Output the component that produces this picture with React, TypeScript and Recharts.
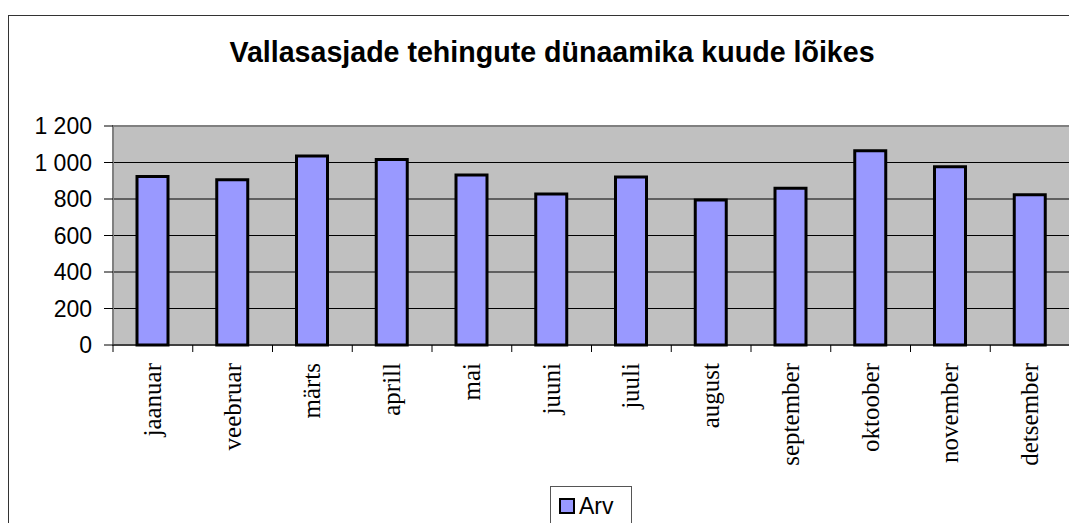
import React from "react";
import { BarChart, Bar, XAxis, YAxis, CartesianGrid, ReferenceArea } from "recharts";

const months = [
  "jaanuar",
  "veebruar",
  "märts",
  "aprill",
  "mai",
  "juuni",
  "juuli",
  "august",
  "september",
  "oktoober",
  "november",
  "detsember",
];
const arv = [923, 905, 1036, 1016, 932, 828, 921, 795, 859, 1065, 977, 823];
const yTicks = [0, 200, 400, 600, 800, 1000, 1200];

const data = months.map((m, i) => ({ month: m, arv: arv[i] }));

const W = 1069;
const H = 515;
const PLOT_LEFT = 105;
const PLOT_RIGHT = 1062;
const BAND = (PLOT_RIGHT - PLOT_LEFT) / months.length;

const SANS = "'Liberation Sans', Arial, sans-serif";
const SERIF = "'Liberation Serif', 'Times New Roman', serif";

// ticks sit on category boundaries, labels rotated under each bar
function MonthTick(props: any) {
  const { x, y, payload, index } = props;
  const half = BAND / 2;
  return (
    <g>
      <line x1={x - half} y1={y} x2={x - half} y2={y + 7} stroke="#000" />
      {index === months.length - 1 && (
        <line x1={x + half} y1={y} x2={x + half} y2={y + 7} stroke="#000" />
      )}
      <text
        transform={`translate(${x + 8},${y + 18}) rotate(-90)`}
        textAnchor="end"
        fontFamily={SERIF}
        fontSize={25}
        fill="#000"
      >
        {payload.value}
      </text>
    </g>
  );
}

const fmt = (v: number) => (v >= 1000 ? `${Math.floor(v / 1000)} ${String(v % 1000).padStart(3, "0")}` : String(v));

export default function App() {
  return (
    <div style={{ position: "relative", width: W, height: H, overflow: "hidden", background: "#fff" }}>
      {/* outer chart frame */}
      <div
        style={{
          position: "absolute",
          left: 0,
          top: 7,
          width: W + 20,
          height: H + 20,
          border: "1px solid #333",
          boxSizing: "border-box",
        }}
      />
      <div
        style={{
          position: "absolute",
          left: 144,
          top: 30,
          width: 800,
          textAlign: "center",
          fontFamily: SANS,
          fontWeight: "bold",
          fontSize: 28.6,
          lineHeight: "28px",
          color: "#000",
        }}
      >
        Vallasasjade tehingute dünaamika kuude lõikes
      </div>

      <div style={{ position: "absolute", left: 0, top: 0 }}>
        <BarChart
          width={W}
          height={H}
          data={data}
          margin={{ top: 118, right: 7, left: 0, bottom: 0 }}
          barSize={31}
        >
          <CartesianGrid
            vertical={false}
            horizontalValues={[200, 400, 600, 800, 1000]}
            stroke="#000"
            fill="#C0C0C0"
            fillOpacity={1}
          />
          <ReferenceArea y1={0} y2={1200} fill="none" stroke="#808080" strokeWidth={2} ifOverflow="visible" />
          <XAxis
            dataKey="month"
            height={178}
            interval={0}
            tickSize={0}
            tickMargin={0}
            tickLine={false}
            axisLine={{ stroke: "#000" }}
            tick={<MonthTick />}
          />
          <YAxis
            width={105}
            domain={[0, 1200]}
            ticks={yTicks}
            interval={0}
            tickSize={9}
            tickMargin={12}
            axisLine={false}
            tickLine={{ stroke: "#000" }}
            tickFormatter={fmt}
            tick={{ fontFamily: SANS, fontSize: 23, fill: "#000" }}
          />
          <Bar dataKey="arv" fill="#9999FF" stroke="#000" strokeWidth={3} isAnimationActive={false} />
        </BarChart>
      </div>

      {/* legend */}
      <div
        style={{
          position: "absolute",
          left: 542,
          top: 478,
          width: 82,
          height: 45,
          border: "1px solid #555",
          boxSizing: "border-box",
          background: "#fff",
        }}
      >
        <div
          style={{
            position: "absolute",
            left: 8,
            top: 11,
            width: 16,
            height: 16,
            background: "#9999FF",
            border: "2px solid #000",
            boxSizing: "border-box",
          }}
        />
        <div
          style={{
            position: "absolute",
            left: 28,
            top: 6,
            fontFamily: SANS,
            fontSize: 23,
            lineHeight: "26px",
            color: "#000",
          }}
        >
          Arv
        </div>
      </div>
    </div>
  );
}
